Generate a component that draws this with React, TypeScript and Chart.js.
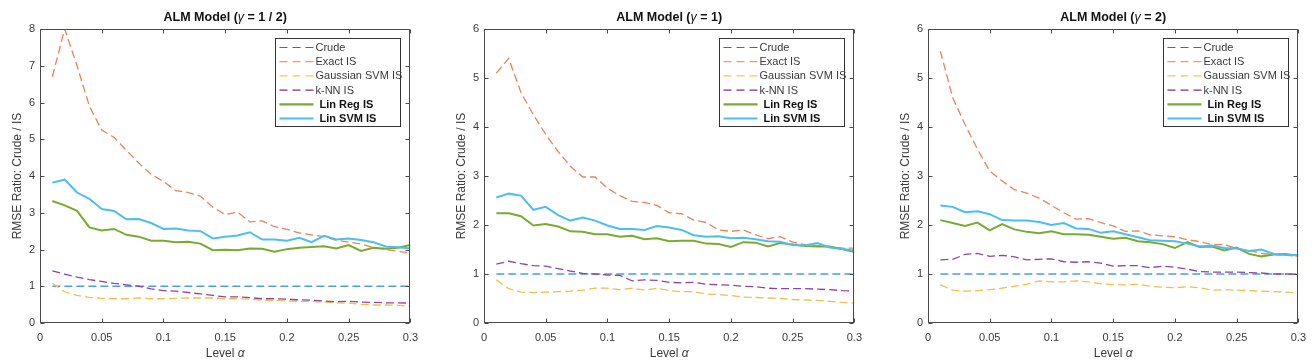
import React, { useEffect, useRef } from "react";
import { Chart, registerables } from "chart.js";

Chart.register(...registerables);

// ---------- data ----------
const LEVELS = [
  0.01, 0.02, 0.03, 0.04, 0.05, 0.06, 0.07, 0.08, 0.09, 0.1,
  0.11, 0.12, 0.13, 0.14, 0.15, 0.16, 0.17, 0.18, 0.19, 0.2,
  0.21, 0.22, 0.23, 0.24, 0.25, 0.26, 0.27, 0.28, 0.29, 0.3,
];
const X_TICKS = [0, 0.05, 0.1, 0.15, 0.2, 0.25, 0.3];
const SERIES_NAMES = ["Crude", "Exact IS", "Gaussian SVM IS", "k-NN IS", "Lin Reg IS", "Lin SVM IS"];

const CRUDE = [1, 1, 1, 1, 1, 1, 1, 1, 1, 1, 1, 1, 1, 1, 1, 1, 1, 1, 1, 1, 1, 1, 1, 1, 1, 1, 1, 1, 1, 1];

// gamma = 1/2
const EXACT_G05 = [6.7, 8.0, 7.0, 5.9, 5.25, 5.05, 4.7, 4.35, 4.05, 3.85, 3.6, 3.55, 3.45, 3.15, 2.95, 3.02, 2.75, 2.78, 2.62, 2.55, 2.45, 2.4, 2.35, 2.25, 2.2, 2.15, 2.05, 2.0, 1.95, 1.9];
const GSVM_G05 = [1.08, 0.85, 0.75, 0.7, 0.67, 0.66, 0.66, 0.68, 0.66, 0.66, 0.67, 0.68, 0.68, 0.68, 0.66, 0.66, 0.65, 0.62, 0.61, 0.6, 0.59, 0.58, 0.57, 0.55, 0.54, 0.51, 0.49, 0.49, 0.48, 0.46];
const KNN_G05 = [1.42, 1.33, 1.25, 1.18, 1.13, 1.08, 1.04, 1.0, 0.93, 0.88, 0.87, 0.83, 0.79, 0.75, 0.71, 0.71, 0.69, 0.66, 0.66, 0.65, 0.63, 0.62, 0.6, 0.58, 0.59, 0.57, 0.56, 0.55, 0.55, 0.54];
const LINREG_G05 = [3.32, 3.2, 3.05, 2.6, 2.52, 2.56, 2.4, 2.35, 2.24, 2.24, 2.2, 2.21, 2.16, 1.98, 1.99, 1.98, 2.03, 2.02, 1.94, 2.01, 2.05, 2.07, 2.09, 2.03, 2.12, 1.96, 2.05, 2.02, 2.05, 2.12];
const LINSVM_G05 = [3.82, 3.9, 3.55, 3.38, 3.1, 3.05, 2.82, 2.83, 2.72, 2.56, 2.57, 2.52, 2.5, 2.3, 2.35, 2.38, 2.47, 2.27, 2.27, 2.24, 2.32, 2.2, 2.37, 2.27, 2.3, 2.26, 2.2, 2.08, 2.06, 2.03];

// gamma = 1
const EXACT_G1 = [5.1, 5.4, 4.7, 4.25, 3.85, 3.5, 3.2, 2.98, 2.98, 2.75, 2.6, 2.48, 2.46, 2.4, 2.25, 2.23, 2.1, 2.05, 1.9, 1.87, 1.9, 1.8, 1.72, 1.76, 1.65, 1.6, 1.58, 1.55, 1.53, 1.53];
const GSVM_G1 = [0.88, 0.7, 0.63, 0.62, 0.63, 0.64, 0.65, 0.67, 0.71, 0.71, 0.68, 0.71, 0.67, 0.71, 0.66, 0.64, 0.64, 0.59, 0.58, 0.56, 0.53, 0.52, 0.51, 0.5, 0.48, 0.47, 0.46, 0.44, 0.42, 0.41];
const KNN_G1 = [1.2, 1.26, 1.21, 1.17, 1.16, 1.11, 1.06, 1.01, 1.0, 0.98, 0.97, 0.86, 0.88, 0.87, 0.83, 0.82, 0.83, 0.79, 0.78, 0.77, 0.75, 0.74, 0.71, 0.7, 0.7, 0.7, 0.69, 0.68, 0.66, 0.65];
const LINREG_G1 = [2.24, 2.24, 2.18, 1.99, 2.02, 1.97, 1.87, 1.86, 1.81, 1.81, 1.76, 1.78, 1.71, 1.73, 1.67, 1.68, 1.68, 1.62, 1.61, 1.55, 1.65, 1.64, 1.56, 1.63, 1.6, 1.57, 1.56, 1.56, 1.51, 1.45];
const LINSVM_G1 = [2.56, 2.64, 2.6, 2.31, 2.37, 2.2, 2.09, 2.15, 2.09, 1.99, 1.92, 1.92, 1.9, 1.98, 1.95, 1.9, 1.79, 1.76, 1.77, 1.73, 1.74, 1.71, 1.67, 1.66, 1.59, 1.58, 1.63, 1.54, 1.51, 1.48];

// gamma = 2
const EXACT_G2 = [5.55, 4.6, 4.05, 3.55, 3.1, 2.9, 2.72, 2.65, 2.55, 2.4, 2.25, 2.12, 2.13, 2.05, 1.98, 1.87, 1.88, 1.8, 1.78, 1.76, 1.7, 1.66, 1.6, 1.6, 1.52, 1.48, 1.42, 1.4, 1.38, 1.36];
const GSVM_G2 = [0.78, 0.67, 0.65, 0.66, 0.68, 0.71, 0.75, 0.79, 0.86, 0.84, 0.84, 0.86, 0.84, 0.8, 0.78, 0.78, 0.79, 0.75, 0.73, 0.72, 0.74, 0.72, 0.67, 0.68, 0.67, 0.66, 0.65, 0.64, 0.63, 0.61];
const KNN_G2 = [1.29, 1.3, 1.4, 1.42, 1.36, 1.38, 1.35, 1.29, 1.3, 1.31, 1.25, 1.24, 1.25, 1.22, 1.16, 1.17, 1.17, 1.13, 1.16, 1.14, 1.1, 1.05, 1.04, 1.04, 1.04, 1.03, 1.02, 1.0, 1.0, 0.99];
const LINREG_G2 = [2.1, 2.04, 1.98, 2.05, 1.89, 2.02, 1.91, 1.86, 1.83, 1.87, 1.81, 1.81, 1.8, 1.76, 1.72, 1.74, 1.67, 1.65, 1.61, 1.53, 1.65, 1.55, 1.56, 1.48, 1.54, 1.41, 1.36, 1.4, 1.41, 1.37];
const LINSVM_G2 = [2.4, 2.37, 2.26, 2.28, 2.22, 2.1, 2.09, 2.09, 2.06, 2.0, 2.04, 1.93, 1.92, 1.84, 1.87, 1.81, 1.75, 1.69, 1.68, 1.67, 1.62, 1.56, 1.58, 1.53, 1.52, 1.47, 1.5, 1.41, 1.39, 1.39];

// ---------- styling ----------
const FONT = "'Liberation Sans', Arial, Helvetica, sans-serif";
const COLORS = ["#4f9fdb", "#e8845c", "#f0bf4c", "#8e44a6", "#77ac30", "#4dbeee"];
const LEGEND_COLORS = ["#1a78c2", "#ea9a78", "#f3c95e", "#7e2f8e", "#77ac30", "#4dbeee"];
const DASHED = [true, true, true, true, false, false];
const TEXT = "#3a3a3a";

type Seg = { t: string; f: string };

const TITLE_BOLD = `bold 12.5px ${FONT}`;
const TITLE_IT = `italic 12.5px ${FONT}`;

const PANELS = [
  {
    title: [
      { t: "ALM Model (", f: TITLE_BOLD },
      { t: "γ", f: TITLE_IT },
      { t: " = 1 / 2)", f: TITLE_BOLD },
    ],
    yMax: 8,
    series: [CRUDE, EXACT_G05, GSVM_G05, KNN_G05, LINREG_G05, LINSVM_G05],
  },
  {
    title: [
      { t: "ALM Model (", f: TITLE_BOLD },
      { t: "γ", f: TITLE_IT },
      { t: " = 1)", f: TITLE_BOLD },
    ],
    yMax: 6,
    series: [CRUDE, EXACT_G1, GSVM_G1, KNN_G1, LINREG_G1, LINSVM_G1],
  },
  {
    title: [
      { t: "ALM Model (", f: TITLE_BOLD },
      { t: "γ", f: TITLE_IT },
      { t: " = 2)", f: TITLE_BOLD },
    ],
    yMax: 6,
    series: [CRUDE, EXACT_G2, GSVM_G2, KNN_G2, LINREG_G2, LINSVM_G2],
  },
];

function drawSegs(ctx: CanvasRenderingContext2D, segs: Seg[], cx: number, cy: number) {
  let total = 0;
  for (const s of segs) {
    ctx.font = s.f;
    total += ctx.measureText(s.t).width;
  }
  let x = cx - total / 2;
  ctx.textBaseline = "middle";
  ctx.textAlign = "left";
  for (const s of segs) {
    ctx.font = s.f;
    ctx.fillText(s.t, x, cy);
    x += ctx.measureText(s.t).width;
  }
}

const fmt = (v: number) => String(Number(v.toFixed(2)));

function makeDecor(title: Seg[]) {
  return {
    id: "matlabDecor",
    afterDraw(chart: any) {
      const ctx: CanvasRenderingContext2D = chart.ctx;
      const a = chart.chartArea;
      const xs = chart.scales.x;
      const ys = chart.scales.y;
      ctx.save();
      // box
      ctx.strokeStyle = "#4a4a4a";
      ctx.lineWidth = 1;
      ctx.setLineDash([]);
      const L = Math.round(a.left) + 0.5;
      const R = Math.round(a.right) - 0.5;
      const T = Math.round(a.top) + 0.5;
      const B = Math.round(a.bottom) - 0.5;
      ctx.strokeRect(L, T, R - L, B - T);
      // inward ticks
      const TL = 4;
      ctx.beginPath();
      for (const t of xs.ticks) {
        const px = Math.round(xs.getPixelForValue(t.value)) + 0.5;
        ctx.moveTo(px, B);
        ctx.lineTo(px, B - TL);
        ctx.moveTo(px, T);
        ctx.lineTo(px, T + TL);
      }
      for (const t of ys.ticks) {
        const py = Math.round(ys.getPixelForValue(t.value)) + 0.5;
        ctx.moveTo(L, py);
        ctx.lineTo(L + TL, py);
        ctx.moveTo(R, py);
        ctx.lineTo(R - TL, py);
      }
      ctx.stroke();

      // title
      ctx.fillStyle = "#111";
      drawSegs(ctx, title, (a.left + a.right) / 2, 18);

      // x axis title
      ctx.fillStyle = TEXT;
      drawSegs(
        ctx,
        [
          { t: "Level ", f: `12px ${FONT}` },
          { t: "α", f: `italic 12px ${FONT}` },
        ],
        (a.left + a.right) / 2,
        354
      );

      // y axis title
      ctx.save();
      ctx.translate(a.left - 22, (a.top + a.bottom) / 2);
      ctx.rotate(-Math.PI / 2);
      ctx.font = `12px ${FONT}`;
      ctx.textAlign = "center";
      ctx.textBaseline = "middle";
      ctx.fillText("RMSE Ratio: Crude / IS", 0, 0);
      ctx.restore();

      // legend
      const bw = 125;
      const bh = 88;
      const bx = Math.round(a.right - 10 - bw) + 0.5;
      const by = Math.round(a.top + 9) + 0.5;
      ctx.fillStyle = "#fff";
      ctx.fillRect(bx, by, bw, bh);
      ctx.strokeStyle = "#333";
      ctx.lineWidth = 1;
      ctx.strokeRect(bx, by, bw, bh);
      chart.data.datasets.forEach((ds: any, i: number) => {
        const cy = by + 9 + i * 14.2;
        ctx.beginPath();
        ctx.strokeStyle = LEGEND_COLORS[i];
        ctx.lineWidth = DASHED[i] ? 1.2 : 2.2;
        ctx.setLineDash(DASHED[i] ? [8, 5] : []);
        ctx.moveTo(bx + 4, cy);
        ctx.lineTo(bx + 38, cy);
        ctx.stroke();
        ctx.setLineDash([]);
        ctx.textAlign = "left";
        ctx.textBaseline = "middle";
        if (DASHED[i]) {
          ctx.font = `11px ${FONT}`;
          ctx.fillStyle = TEXT;
          ctx.fillText(ds.label, bx + 40, cy + 0.5);
        } else {
          ctx.font = `bold 11px ${FONT}`;
          ctx.fillStyle = "#111";
          ctx.fillText(ds.label, bx + 44, cy + 0.5);
        }
      });
      ctx.restore();
    },
  };
}

function Panel({ idx, left }: { idx: number; left: number }) {
  const ref = useRef<HTMLCanvasElement>(null);
  useEffect(() => {
    const p = PANELS[idx];
    const datasets = p.series.map((arr, i) => ({
      label: SERIES_NAMES[i],
      data: LEVELS.map((x, j) => ({ x, y: arr[j] })),
      borderColor: COLORS[i],
      backgroundColor: COLORS[i],
      borderWidth: DASHED[i] ? 1.3 : 2,
      borderDash: DASHED[i] ? [8, 4] : [],
      pointRadius: 0,
      tension: 0,
      fill: false,
      order: 6 - i,
    }));
    const chart = new Chart(ref.current as HTMLCanvasElement, {
      type: "line",
      data: { datasets } as any,
      options: {
        responsive: false,
        animation: false,
        layout: { padding: { top: 29, right: 13, left: 0, bottom: 0 } },
        plugins: {
          legend: { display: false },
          title: { display: false },
          tooltip: { enabled: false },
        },
        scales: {
          x: {
            type: "linear",
            min: 0,
            max: 0.3,
            afterBuildTicks: (s: any) => {
              s.ticks = X_TICKS.map((v) => ({ value: v }));
            },
            afterFit: (s: any) => {
              s.height = 40;
            },
            grid: { display: false, drawTicks: false, tickLength: 0 },
            border: { display: false },
            ticks: {
              autoSkip: false,
              maxRotation: 0,
              padding: 8,
              color: TEXT,
              font: { family: FONT, size: 11 },
              callback: (v: any) => fmt(Number(v)),
            },
          },
          y: {
            type: "linear",
            min: 0,
            max: p.yMax,
            afterFit: (s: any) => {
              s.width = 40;
            },
            grid: { display: false, drawTicks: false, tickLength: 0 },
            border: { display: false },
            ticks: {
              stepSize: 1,
              padding: 5,
              color: TEXT,
              font: { family: FONT, size: 11 },
              callback: (v: any) => fmt(Number(v)),
            },
          },
        },
      } as any,
      plugins: [makeDecor(p.title)],
    });
    return () => chart.destroy();
  }, [idx]);
  return (
    <canvas
      ref={ref}
      width={426}
      height={363}
      style={{ position: "absolute", left, top: 0, display: "block" }}
    />
  );
}

export default function App() {
  return (
    <div
      style={{
        position: "absolute",
        left: 0,
        top: 0,
        width: 1314,
        height: 363,
        overflow: "hidden",
        background: "#fff",
      }}
    >
      <Panel idx={0} left={0} />
      <Panel idx={1} left={444} />
      <Panel idx={2} left={888} />
    </div>
  );
}
